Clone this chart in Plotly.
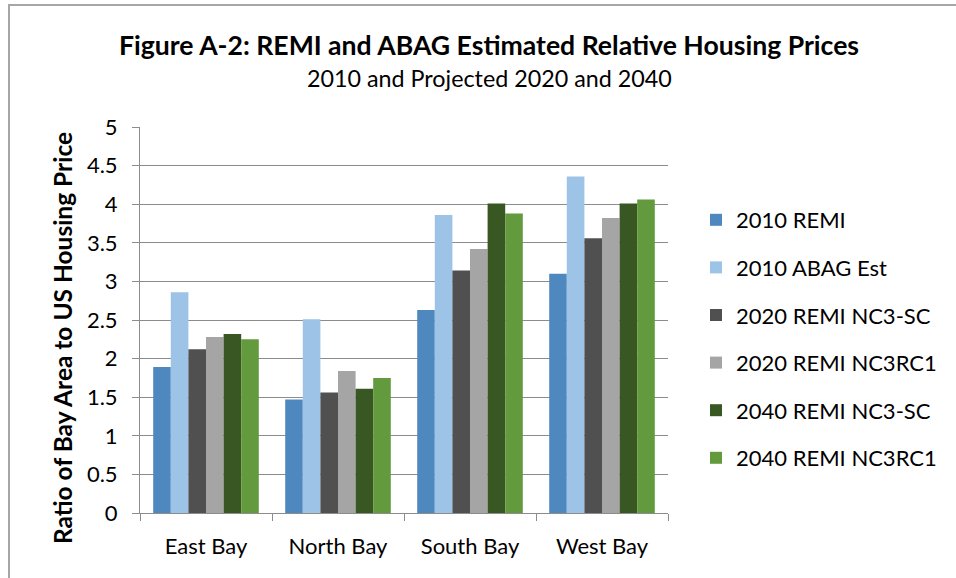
import plotly.graph_objects as go

categories = ["East Bay", "North Bay", "South Bay", "West Bay"]
series_names = ["2010 REMI", "2010 ABAG Est", "2020 REMI NC3-SC",
                "2020 REMI NC3RC1", "2040 REMI NC3-SC", "2040 REMI NC3RC1"]
remi_2010 = [1.89, 1.47, 2.63, 3.10]
abag_2010 = [2.86, 2.51, 3.86, 4.36]
remi_2020_sc = [2.12, 1.56, 3.14, 3.56]
remi_2020_rc1 = [2.28, 1.84, 3.42, 3.82]
remi_2040_sc = [2.32, 1.61, 4.01, 4.01]
remi_2040_rc1 = [2.25, 1.75, 3.88, 4.06]
y_ticks = [0, 0.5, 1, 1.5, 2, 2.5, 3, 3.5, 4, 4.5, 5]

series_values = [remi_2010, abag_2010, remi_2020_sc, remi_2020_rc1, remi_2040_sc, remi_2040_rc1]
colors = ["#4F88BE", "#9DC3E6", "#505050", "#A5A5A5", "#385723", "#639A3E"]

FONT = "Lato"
fig = go.Figure()
for i, (name, vals, col) in enumerate(zip(series_names, series_values, colors)):
    fig.add_trace(go.Bar(x=categories, y=vals, name=name, marker_color=col,
                         marker_line_width=0, legendgroup=str(i)))

W, H = 956, 578
L, R, T, B = 140, 668, 127, 513
fig.update_layout(
    width=W, height=H,
    margin=dict(l=L, r=W - R, t=T, b=H - B, autoexpand=False),
    paper_bgcolor="white", plot_bgcolor="white",
    barmode="group", bargap=0.2, bargroupgap=0,
    font=dict(family=FONT, color="black", size=22),
    showlegend=True,
    legend=dict(x=(696 - L) / (R - L), xanchor="left", y=(B - 339) / (B - T), yanchor="middle",
                font=dict(size=22, family=FONT), tracegroupgap=16,
                itemwidth=30, bgcolor="rgba(0,0,0,0)"),
    title=None,
)
fig.update_yaxes(range=[0, 5], tickvals=y_ticks, ticktext=[f"{v:g}" for v in y_ticks],
                 showgrid=True, gridcolor="#8C8C8C", gridwidth=1,
                 showline=True, linecolor="#8C8C8C", linewidth=1,
                 ticks="outside", ticklen=7, tickcolor="#8C8C8C", ticklabelstandoff=10,
                 tickfont=dict(size=22, family=FONT), zeroline=False, fixedrange=True)
fig.update_xaxes(showline=True, linecolor="#8C8C8C", linewidth=1,
                 ticks="outside", tickson="boundaries", ticklen=7, tickcolor="#8C8C8C",
                 ticklabelstandoff=14,
                 tickfont=dict(size=22, family=FONT), fixedrange=True)

fig.add_annotation(text="<b>Figure A-2: REMI and ABAG Estimated Relative Housing Prices</b>",
                   xref="paper", yref="paper", x=(489 - L) / (R - L), y=(B - 45) / (B - T),
                   xanchor="center", yanchor="middle", showarrow=False,
                   font=dict(size=26.6, family=FONT))
fig.add_annotation(text="2010 and Projected 2020 and 2040",
                   xref="paper", yref="paper", x=(489 - L) / (R - L), y=(B - 78) / (B - T),
                   xanchor="center", yanchor="middle", showarrow=False,
                   font=dict(size=23.3, family=FONT))
fig.add_annotation(text="<b>Ratio of Bay Area to US Housing Price</b>",
                   xref="paper", yref="paper", x=(62 - L) / (R - L), y=(B - 338) / (B - T),
                   xanchor="center", yanchor="middle", showarrow=False, textangle=-90,
                   font=dict(size=24.5, family=FONT))

# chart frame
fig.add_shape(type="line", xref="paper", yref="paper",
              x0=(8 - L) / (R - L), x1=(956 - L) / (R - L),
              y0=(B - 5) / (B - T), y1=(B - 5) / (B - T),
              line=dict(color="#A6A6A6", width=2))
fig.add_shape(type="line", xref="paper", yref="paper",
              x0=(9 - L) / (R - L), x1=(9 - L) / (R - L),
              y0=(B - 5) / (B - T), y1=(B - 578) / (B - T),
              line=dict(color="#A6A6A6", width=2))

fig.write_html("out.html", config={"displayModeBar": False},
               post_script="document.body.style.margin='0';")
